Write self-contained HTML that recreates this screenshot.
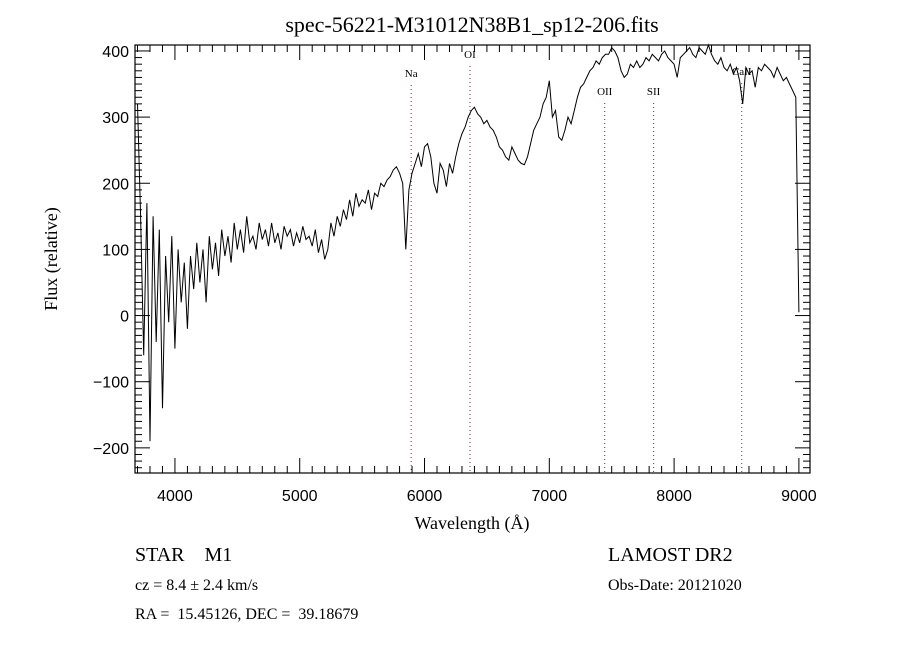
<!DOCTYPE html>
<html><head><meta charset="utf-8"><style>
html,body{margin:0;padding:0;background:#fff;}
svg{display:block;}
.s{font-family:"Liberation Sans",sans-serif;}
.r{font-family:"Liberation Serif",serif;}
</style></head><body>
<svg id="chart" width="900" height="650" viewBox="0 0 900 650">
<rect width="900" height="650" fill="#fff"/>
<text class="r" x="472" y="32" font-size="22" text-anchor="middle">spec-56221-M31012N38B1_sp12-206.fits</text>
<g id="lines"></g>
<g id="ticks"></g>
<path id="spec" fill="none" stroke="#000" stroke-width="1"/>
<rect x="135" y="45" width="675" height="428" fill="none" stroke="#000" stroke-width="1.2"/>
<text class="r" x="472" y="529" font-size="18" text-anchor="middle">Wavelength (Å)</text>
<text class="r" x="57" y="259" font-size="18" text-anchor="middle" transform="rotate(-90 57 259)">Flux (relative)</text>
<text class="r" x="135" y="561" font-size="20" xml:space="preserve">STAR    M1</text>
<text class="r" x="135" y="590" font-size="16">cz = 8.4 ± 2.4 km/s</text>
<text class="r" x="135" y="619" font-size="16" xml:space="preserve">RA =  15.45126, DEC =  39.18679</text>
<text class="r" x="608" y="561" font-size="20">LAMOST DR2</text>
<text class="r" x="608" y="590" font-size="16">Obs-Date: 20121020</text>
</svg>
<script>
const wlStart = 3700, wlStep = 25;
const flux = [
320,150,-60,170,-190,150,-40,130,-140,90,-10,120,-50,100,20,80,-20,90,40,110,
50,100,20,120,70,110,60,130,90,120,80,140,100,130,95,150,110,120,100,140,
115,130,105,140,110,125,100,135,120,130,105,125,110,135,115,120,105,130,95,115,
85,100,140,120,150,135,160,145,175,150,185,165,175,170,190,160,185,180,200,195,
205,210,220,225,215,200,100,190,215,230,245,225,255,260,240,200,185,230,220,195,
230,215,240,260,275,285,300,310,315,305,300,290,295,285,280,270,255,250,240,235,
255,245,235,230,228,240,260,280,290,300,320,330,355,300,310,270,265,280,300,290,
310,330,345,350,360,370,375,385,380,390,395,395,405,400,390,370,360,365,380,375,
385,375,380,390,385,395,390,385,395,400,390,385,380,360,390,395,400,405,395,390,
405,400,395,410,395,385,380,390,375,370,380,365,375,355,320,375,365,370,345,375,
370,380,375,370,360,375,365,355,360,350,340,330,5
];
const xTicks = [4000,5000,6000,7000,8000,9000];
const yTicks = [-200,-100,0,100,200,300,400];
const lineNames = ["Na","OI","OII","SII","CaII"];
const lineWl = [5893,6364,7444,7836,8542];
const lineLabelY = [77,58,95,95,75];

const X0=135,X1=810,Y0=45,Y1=473, wMin=3680, wMax=9089, fMin=-238, fMax=409;
const sx = w => X0 + (w-wMin)/(wMax-wMin)*(X1-X0);
const sy = f => Y1 - (f-fMin)/(fMax-fMin)*(Y1-Y0);
const NS="http://www.w3.org/2000/svg";
function mk(tag, attrs, parent){const e=document.createElementNS(NS,tag);for(const k in attrs)e.setAttribute(k,attrs[k]);parent.appendChild(e);return e;}

let d="";
flux.forEach((f,i)=>{const x=sx(wlStart+i*wlStep), y=Math.max(Y0,Math.min(Y1,sy(f)));d+=(i?"L":"M")+x.toFixed(1)+","+y.toFixed(1);});
document.getElementById("spec").setAttribute("d",d);

const tg=document.getElementById("ticks");
for(let w=3700; w<=9000; w+=100){
  const x=sx(w), major=(w%1000===0), len=major?15:7;
  const t1=mk("line",{x1:x,x2:x,y1:Y1,y2:Y1-len,stroke:"#000"},tg);
  
  
  const t2=mk("line",{x1:x,x2:x,y1:Y0,y2:Y0+len,stroke:"#000"},tg);
  
  
}
xTicks.forEach(w=>{
  const t=mk("text",{x:sx(w),y:501,"font-size":16,"text-anchor":"middle",class:"s"},tg);
  t.textContent=w;
  
  
});
for(let f=-230; f<=400; f+=10){
  const y=sy(f), major=(f%100===0), len=major?15:7;
  const a=mk("line",{x1:X0,x2:X0+len,y1:y,y2:y,stroke:"#000"},tg);
  
  
  const b=mk("line",{x1:X1,x2:X1-len,y1:y,y2:y,stroke:"#000"},tg);
  
  
}
yTicks.forEach(f=>{
  const t=mk("text",{x:129,y:sy(f)+6,"font-size":16,"text-anchor":"end",class:"s"},tg);
  t.textContent=(f<0?"\u2212"+(-f):f);
  
  
});
const lg=document.getElementById("lines");
lineNames.forEach((n,i)=>{
  const x=sx(lineWl[i]);
  const l=mk("line",{x1:x,x2:x,y1:lineLabelY[i]+8,y2:Y1,stroke:"#7a2a2a","stroke-dasharray":"1,3","stroke-width":1},lg);
  
  
  const t=mk("text",{x:x,y:lineLabelY[i],"font-size":11,"text-anchor":"middle",class:"r"},lg);
  t.textContent=n;
  
  
});
</script>
</body></html>
